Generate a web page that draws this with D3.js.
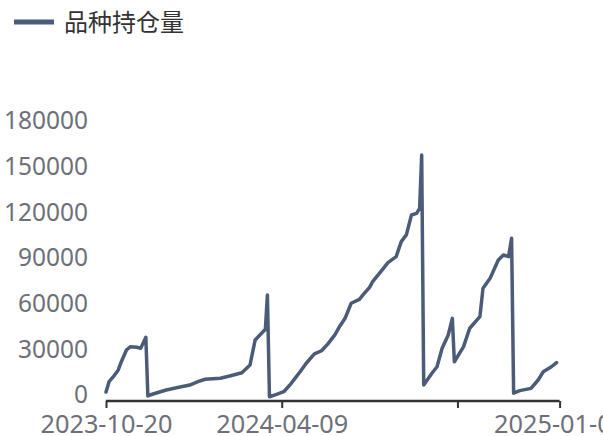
<!DOCTYPE html>
<html>
<head>
<meta charset="utf-8">
<script src="https://d3js.org/d3.v7.min.js"></script>
<style>
  body { margin: 0; background: #fff; }
  svg { display: block; }
</style>
</head>
<body>
<div id="chart"></div>
<script>
// 品种持仓量
var dates = [
  "2023-10-20","2023-10-23","2023-10-27","2023-11-01","2023-11-04","2023-11-09",
  "2023-11-13","2023-11-19","2023-11-23","2023-11-26","2023-11-28","2023-11-30",
  "2023-12-05","2023-12-18","2023-12-28","2024-01-10","2024-01-18","2024-01-25",
  "2024-02-09","2024-02-18","2024-03-01","2024-03-09","2024-03-14","2024-03-17",
  "2024-03-24","2024-03-26","2024-03-28","2024-04-04","2024-04-11","2024-04-17",
  "2024-04-22","2024-04-27","2024-05-03","2024-05-11","2024-05-18","2024-05-24",
  "2024-05-31","2024-06-05","2024-06-10","2024-06-16","2024-06-24","2024-06-29",
  "2024-07-04","2024-07-07","2024-07-15","2024-07-22","2024-07-30","2024-08-04",
  "2024-08-09","2024-08-14","2024-08-19","2024-08-22","2024-08-24","2024-08-26",
  "2024-09-03","2024-09-08","2024-09-13","2024-09-19","2024-09-23","2024-09-25",
  "2024-10-04","2024-10-10","2024-10-20","2024-10-23","2024-10-30","2024-11-07",
  "2024-11-12","2024-11-17","2024-11-20","2024-11-22","2024-11-28","2024-12-09",
  "2024-12-16","2024-12-21","2024-12-29","2025-01-03"
];
var holdings = [
  5900,12700,15800,20400,25800,33500,
  35700,35300,34600,39000,41900,3300,
  4600,7200,8700,10500,12700,14300,
  14900,16400,18600,23700,40100,42200,
  47100,69600,2800,4400,6100,10500,
  14900,19200,24800,30900,33000,37400,
  43400,49300,54300,64200,66800,70800,
  74700,78400,85000,90900,94800,104700,
  109100,122200,123300,126600,161600,10500,
  18200,22500,34600,43400,54300,25800,
  35700,47800,55400,74000,80600,92600,
  95900,94800,106900,5100,6800,8300,
  13800,19200,22500,25200
];
var yTicks = [0, 30000, 60000, 90000, 120000, 150000, 180000];
var xTicks = ["2023-10-20", "2024-04-09", "2024-09-28", "2025-01-06"];
var xTickShown = [true, true, false, true];
var seriesName = "品种持仓量";

var W = 603, H = 436;
var lineColor = "#4b5b78";
var parse = d3.timeParse("%Y-%m-%d");

var svg = d3.select("#chart").append("svg")
  .attr("width", W).attr("height", H);

var x = d3.scaleTime()
  .domain([parse(xTicks[0]), parse(xTicks[xTicks.length - 1])])
  .range([106, 559.6]);
var y = d3.scaleLinear()
  .domain([0, 180000])
  .range([401, 127]);

var data = dates.map(function(d, i) { return { date: parse(d), v: holdings[i] }; });

// y axis labels only
var yAxis = d3.axisLeft(y).tickValues(yTicks).tickSize(0).tickPadding(0)
  .tickFormat(function(d) { return d; });
var gy = svg.append("g").attr("transform", "translate(88,0)").call(yAxis);
gy.select(".domain").remove();
gy.selectAll("text")
  .attr("fill", "#6e7079")
  .attr("font-family", "'Noto Sans', sans-serif")
  .attr("font-size", 24.5)
  .attr("dy", "0.32em")
  .attr("y", -6);

// x axis
var xAxis = d3.axisBottom(x)
  .tickValues(xTicks.map(parse))
  .tickSize(7)
  .tickPadding(7)
  .tickFormat(function(d, i) { return xTickShown[i] ? d3.timeFormat("%Y-%m-%d")(d) : ""; });
var gx = svg.append("g").attr("transform", "translate(0,401)").call(xAxis);
gx.select(".domain").attr("stroke", "#333").attr("stroke-width", 2.5)
  .attr("d", "M106,0H559.6");
gx.selectAll(".tick line").attr("stroke", "#333").attr("stroke-width", 2);
gx.selectAll("text")
  .attr("fill", "#6e7079")
  .attr("font-family", "'Noto Sans', sans-serif")
  .attr("font-size", 25.3);

// line
var line = d3.line()
  .x(function(d) { return x(d.date); })
  .y(function(d) { return y(d.v); });
svg.append("path")
  .datum(data)
  .attr("fill", "none")
  .attr("stroke", lineColor)
  .attr("stroke-width", 3.5)
  .attr("stroke-linejoin", "round")
  .attr("stroke-linecap", "round")
  .attr("d", line);

// legend
var lg = svg.append("g");
lg.append("line")
  .attr("x1", 14).attr("x2", 54).attr("y1", 22).attr("y2", 22)
  .attr("stroke", lineColor).attr("stroke-width", 5);
lg.append("text")
  .attr("x", 64).attr("y", 22).attr("dy", "0.36em")
  .attr("fill", "#333")
  .attr("font-family", "'Noto Sans CJK SC', sans-serif")
  .attr("font-size", 24)
  .text(seriesName);
</script>
</body>
</html>
